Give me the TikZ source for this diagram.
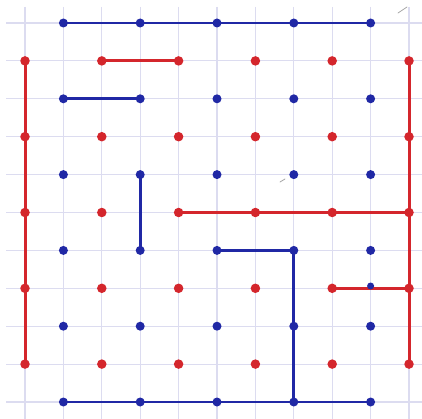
\documentclass[tikz,border=0pt]{standalone}
\definecolor{gridc}{RGB}{220,220,240}
\definecolor{penred}{RGB}{212,38,44}
\definecolor{penblue}{RGB}{32,40,165}
\tikzset{
  gridline/.style={gridc, line width=1.1pt},
  redline/.style={penred, line width=3pt, line cap=round},
  blueline/.style={penblue, line width=2.8pt, line cap=round},
  rdot/.style={circle, fill=penred, inner sep=0pt, minimum size=9.5pt},
  bdot/.style={circle, fill=penblue, inner sep=0pt, minimum size=9pt},
  stray/.style={gray!70, line width=0.8pt, line cap=round}
}
\begin{document}
\begin{tikzpicture}[x=1pt,y=-1pt]
\useasboundingbox (0,0) rectangle (422,419);
\fill[white] (0,0) rectangle (422,419);
% grid paper
\foreach \j in {0,...,10} \draw[gridline] (6,{23+37.9*\j}) -- (422,{23+37.9*\j});
\foreach \i in {0,...,10} \draw[gridline] ({25+38.4*\i},7) -- ({25+38.4*\i},419);
% coordinates of the lattice
\foreach \i in {0,...,10} \foreach \j in {0,...,10}
  \coordinate (p-\i-\j) at ({25+38.4*\i},{23+37.9*\j});
\coordinate (bx) at (370.6,286);
% stray pencil marks
\draw[stray] (280,182) -- (285,179);
\draw[stray] (398,13) -- (407,7);
% red segments
\draw[redline] (p-2-1) -- (p-4-1);
\draw[redline] (p-0-1) -- (p-0-9);
\draw[redline] (p-4-5) -- (p-10-5);
\draw[redline] (p-10-1) -- (p-10-9);
\draw[redline] (p-8-7) -- (p-10-7);
% blue segments
\draw[blueline] (p-1-0) -- (p-9-0);
\draw[blueline] (p-1-2) -- (p-3-2);
\draw[blueline] (p-3-4) -- (p-3-6);
\draw[blueline] (p-5-6) -- (p-7-6) -- (p-7-10);
\draw[blueline] (p-1-10) -- (p-9-10);
% red dots
\foreach \i in {0,2,4,6,8,10} \foreach \j in {1,3,5,7,9}
  \node[rdot] (r-\i-\j) at (p-\i-\j) {};
% blue dots
\foreach \i in {1,3,5,7,9} \foreach \j in {0,2,4,6,8,10}
  \node[bdot] (b-\i-\j) at (p-\i-\j) {};
\node[bdot, minimum size=7pt] (b-extra) at (bx) {};
\end{tikzpicture}
\end{document}
